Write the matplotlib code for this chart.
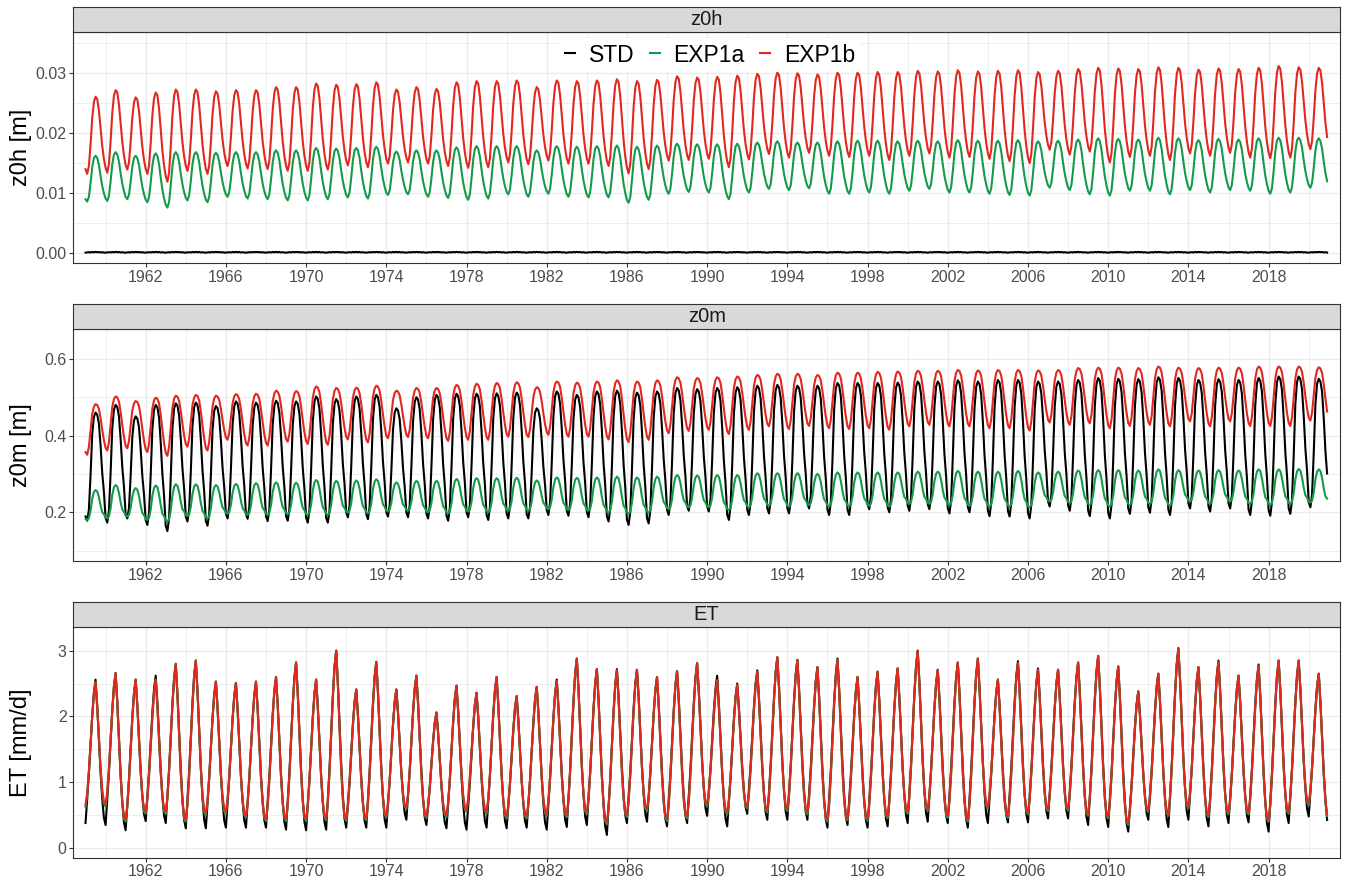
import numpy as np
import matplotlib
matplotlib.use("Agg")
import matplotlib.pyplot as plt
from matplotlib.lines import Line2D

plt.rcParams['font.family'] = ['Liberation Sans', 'DejaVu Sans']

# ---- data: annual summer peaks (1959-2020) and winter troughs (1959-2021) ----
years = list(range(1959, 2021))

z0h_exp1b_peak = [0.0260, 0.0271, 0.0259, 0.0267, 0.0272, 0.0272, 0.0269, 0.0271, 0.0271, 0.0276,
                  0.0276, 0.0282, 0.0280, 0.0281, 0.0284, 0.0272, 0.0276, 0.0273, 0.0284, 0.0286,
                  0.0286, 0.0287, 0.0276, 0.0287, 0.0286, 0.0287, 0.0289, 0.0286, 0.0288, 0.0294,
                  0.0292, 0.0293, 0.0295, 0.0298, 0.0300, 0.0299, 0.0297, 0.0300, 0.0300, 0.0301,
                  0.0301, 0.0303, 0.0302, 0.0304, 0.0302, 0.0303, 0.0304, 0.0301, 0.0303, 0.0306,
                  0.0308, 0.0307, 0.0306, 0.0309, 0.0308, 0.0305, 0.0307, 0.0306, 0.0308, 0.0311,
                  0.0309, 0.0308]
z0h_exp1b_trough = [0.0132, 0.0134, 0.0139, 0.0132, 0.0119, 0.0137, 0.0132, 0.0145, 0.0141, 0.0140,
                    0.0137, 0.0137, 0.0139, 0.0146, 0.0143, 0.0149, 0.0151, 0.0149, 0.0145, 0.0142,
                    0.0143, 0.0151, 0.0148, 0.0154, 0.0149, 0.0149, 0.0145, 0.0133, 0.0140, 0.0154,
                    0.0155, 0.0157, 0.0143, 0.0156, 0.0165, 0.0159, 0.0167, 0.0162, 0.0160, 0.0162,
                    0.0155, 0.0162, 0.0166, 0.0159, 0.0160, 0.0157, 0.0153, 0.0150, 0.0172, 0.0164,
                    0.0169, 0.0151, 0.0160, 0.0162, 0.0155, 0.0166, 0.0162, 0.0167, 0.0159, 0.0158,
                    0.0159, 0.0173, 0.0168]
z0h_exp1a_peak = [0.0162, 0.0168, 0.0162, 0.0166, 0.0168, 0.0168, 0.0167, 0.0168, 0.0168, 0.0171,
                  0.0171, 0.0175, 0.0174, 0.0175, 0.0177, 0.0169, 0.0171, 0.0171, 0.0176, 0.0178,
                  0.0178, 0.0178, 0.0171, 0.0178, 0.0177, 0.0178, 0.0179, 0.0177, 0.0179, 0.0182,
                  0.0181, 0.0181, 0.0182, 0.0184, 0.0186, 0.0184, 0.0184, 0.0186, 0.0187, 0.0187,
                  0.0186, 0.0187, 0.0186, 0.0188, 0.0187, 0.0187, 0.0188, 0.0186, 0.0187, 0.0189,
                  0.0191, 0.0190, 0.0189, 0.0192, 0.0191, 0.0188, 0.0190, 0.0189, 0.0191, 0.0192,
                  0.0192, 0.0191]
z0h_exp1a_trough = [0.0086, 0.0087, 0.0090, 0.0085, 0.0076, 0.0088, 0.0085, 0.0094, 0.0091, 0.0090,
                    0.0088, 0.0088, 0.0090, 0.0093, 0.0091, 0.0097, 0.0098, 0.0094, 0.0092, 0.0089,
                    0.0091, 0.0098, 0.0094, 0.0099, 0.0094, 0.0093, 0.0093, 0.0084, 0.0089, 0.0099,
                    0.0102, 0.0101, 0.0090, 0.0101, 0.0107, 0.0105, 0.0108, 0.0099, 0.0099, 0.0101,
                    0.0099, 0.0104, 0.0107, 0.0101, 0.0101, 0.0099, 0.0097, 0.0096, 0.0109, 0.0105,
                    0.0098, 0.0096, 0.0104, 0.0104, 0.0098, 0.0105, 0.0101, 0.0105, 0.0104, 0.0099,
                    0.0101, 0.0109, 0.0105]
z0h_std_peak = [0.00025] * 62
z0h_std_trough = [0.00012] * 63

z0m_exp1b_peak = [0.482, 0.502, 0.490, 0.499, 0.504, 0.506, 0.504, 0.508, 0.509, 0.517,
                  0.516, 0.528, 0.524, 0.525, 0.530, 0.517, 0.524, 0.524, 0.532, 0.535,
                  0.537, 0.539, 0.526, 0.541, 0.538, 0.541, 0.544, 0.541, 0.544, 0.552,
                  0.550, 0.552, 0.554, 0.558, 0.561, 0.561, 0.558, 0.564, 0.564, 0.566,
                  0.567, 0.569, 0.569, 0.571, 0.570, 0.571, 0.571, 0.570, 0.571, 0.576,
                  0.577, 0.577, 0.576, 0.580, 0.577, 0.576, 0.577, 0.577, 0.580, 0.580,
                  0.580, 0.578]
z0m_exp1b_trough = [0.350, 0.361, 0.367, 0.357, 0.347, 0.371, 0.361, 0.389, 0.374, 0.374,
                    0.384, 0.378, 0.376, 0.390, 0.382, 0.393, 0.396, 0.393, 0.386, 0.389,
                    0.389, 0.397, 0.396, 0.402, 0.397, 0.397, 0.390, 0.383, 0.389, 0.406,
                    0.412, 0.415, 0.404, 0.415, 0.424, 0.417, 0.425, 0.419, 0.417, 0.419,
                    0.415, 0.424, 0.428, 0.424, 0.424, 0.419, 0.419, 0.413, 0.434, 0.428,
                    0.432, 0.419, 0.425, 0.428, 0.424, 0.437, 0.424, 0.437, 0.425, 0.425,
                    0.425, 0.439, 0.430]
z0m_std_peak = [0.460, 0.480, 0.450, 0.480, 0.484, 0.486, 0.477, 0.489, 0.486, 0.491,
                0.489, 0.502, 0.495, 0.502, 0.506, 0.471, 0.500, 0.506, 0.509, 0.509,
                0.510, 0.512, 0.471, 0.515, 0.506, 0.515, 0.517, 0.512, 0.515, 0.524,
                0.521, 0.524, 0.526, 0.530, 0.532, 0.530, 0.530, 0.537, 0.537, 0.537,
                0.538, 0.541, 0.541, 0.544, 0.541, 0.545, 0.545, 0.541, 0.541, 0.545,
                0.550, 0.548, 0.547, 0.552, 0.550, 0.545, 0.547, 0.545, 0.550, 0.554,
                0.554, 0.548]
z0m_std_trough = [0.178, 0.173, 0.184, 0.167, 0.151, 0.176, 0.165, 0.184, 0.183, 0.177,
                  0.178, 0.173, 0.173, 0.187, 0.182, 0.189, 0.187, 0.184, 0.178, 0.187,
                  0.180, 0.184, 0.184, 0.193, 0.191, 0.187, 0.176, 0.167, 0.171, 0.193,
                  0.204, 0.202, 0.180, 0.193, 0.197, 0.197, 0.210, 0.193, 0.193, 0.208,
                  0.200, 0.204, 0.208, 0.197, 0.200, 0.190, 0.189, 0.184, 0.215, 0.204,
                  0.190, 0.184, 0.196, 0.199, 0.193, 0.210, 0.202, 0.210, 0.193, 0.191,
                  0.196, 0.213, 0.205]
z0m_exp1a_peak = [0.258, 0.271, 0.263, 0.270, 0.273, 0.273, 0.271, 0.274, 0.276, 0.278,
                  0.277, 0.284, 0.282, 0.283, 0.286, 0.278, 0.282, 0.282, 0.287, 0.289,
                  0.289, 0.290, 0.283, 0.291, 0.290, 0.291, 0.293, 0.291, 0.293, 0.297,
                  0.296, 0.297, 0.297, 0.302, 0.302, 0.302, 0.300, 0.304, 0.304, 0.304,
                  0.304, 0.306, 0.306, 0.308, 0.306, 0.306, 0.308, 0.304, 0.306, 0.309,
                  0.310, 0.310, 0.309, 0.312, 0.310, 0.309, 0.310, 0.309, 0.312, 0.312,
                  0.313, 0.312]
z0m_exp1a_trough = [0.180, 0.184, 0.189, 0.180, 0.176, 0.190, 0.184, 0.196, 0.193, 0.193,
                    0.195, 0.193, 0.193, 0.199, 0.197, 0.202, 0.204, 0.200, 0.197, 0.202,
                    0.200, 0.204, 0.204, 0.208, 0.206, 0.204, 0.199, 0.196, 0.199, 0.208,
                    0.213, 0.213, 0.206, 0.213, 0.217, 0.215, 0.219, 0.215, 0.215, 0.217,
                    0.215, 0.222, 0.222, 0.219, 0.217, 0.215, 0.215, 0.213, 0.228, 0.224,
                    0.219, 0.215, 0.219, 0.222, 0.217, 0.228, 0.222, 0.228, 0.222, 0.219,
                    0.222, 0.225, 0.222]

et_exp1b_peak = [2.52, 2.66, 2.56, 2.56, 2.80, 2.85, 2.53, 2.51, 2.53, 2.60,
                 2.82, 2.56, 3.00, 2.41, 2.83, 2.41, 2.62, 2.06, 2.46, 2.36,
                 2.60, 2.31, 2.45, 2.54, 2.88, 2.72, 2.70, 2.71, 2.60, 2.69,
                 2.81, 2.55, 2.48, 2.68, 2.90, 2.86, 2.75, 2.86, 2.60, 2.68,
                 2.73, 3.00, 2.71, 2.82, 2.88, 2.56, 2.81, 2.71, 2.71, 2.82,
                 2.92, 2.76, 2.38, 2.65, 3.03, 2.75, 2.83, 2.62, 2.77, 2.85,
                 2.85, 2.65]
et_exp1b_trough = [0.65, 0.66, 0.43, 0.55, 0.55, 0.43, 0.53, 0.55, 0.49, 0.44,
                   0.44, 0.44, 0.45, 0.44, 0.45, 0.49, 0.62, 0.48, 0.50, 0.58,
                   0.55, 0.48, 0.48, 0.52, 0.50, 0.54, 0.39, 0.50, 0.59, 0.44,
                   0.48, 0.66, 0.54, 0.63, 0.57, 0.59, 0.54, 0.43, 0.45, 0.44,
                   0.48, 0.55, 0.59, 0.49, 0.43, 0.63, 0.49, 0.54, 0.59, 0.60,
                   0.52, 0.48, 0.38, 0.58, 0.52, 0.63, 0.50, 0.54, 0.54, 0.43,
                   0.55, 0.68, 0.47]
et_exp1a_peak = et_exp1b_peak
et_exp1a_trough = [0.62, 0.63, 0.40, 0.52, 0.52, 0.40, 0.50, 0.52, 0.46, 0.41,
                   0.41, 0.41, 0.42, 0.41, 0.42, 0.46, 0.59, 0.45, 0.47, 0.55,
                   0.52, 0.45, 0.45, 0.49, 0.47, 0.51, 0.36, 0.47, 0.56, 0.41,
                   0.45, 0.63, 0.51, 0.60, 0.54, 0.56, 0.51, 0.40, 0.42, 0.41,
                   0.45, 0.52, 0.56, 0.46, 0.40, 0.60, 0.46, 0.51, 0.56, 0.57,
                   0.49, 0.45, 0.35, 0.55, 0.49, 0.60, 0.47, 0.51, 0.51, 0.40,
                   0.52, 0.65, 0.44]
et_std_peak = [2.56, 2.66, 2.56, 2.62, 2.80, 2.85, 2.53, 2.51, 2.53, 2.60,
               2.82, 2.56, 3.00, 2.41, 2.83, 2.41, 2.62, 2.06, 2.47, 2.36,
               2.60, 2.31, 2.45, 2.56, 2.88, 2.72, 2.72, 2.71, 2.60, 2.69,
               2.81, 2.62, 2.50, 2.70, 2.90, 2.86, 2.75, 2.88, 2.60, 2.68,
               2.73, 3.00, 2.71, 2.82, 2.88, 2.56, 2.84, 2.73, 2.71, 2.82,
               2.92, 2.76, 2.38, 2.65, 3.04, 2.75, 2.85, 2.62, 2.79, 2.85,
               2.85, 2.65]
et_std_trough = [0.38, 0.35, 0.27, 0.41, 0.38, 0.30, 0.30, 0.31, 0.31, 0.31,
                 0.28, 0.27, 0.28, 0.31, 0.31, 0.31, 0.43, 0.35, 0.30, 0.28,
                 0.31, 0.30, 0.31, 0.28, 0.32, 0.35, 0.20, 0.38, 0.40, 0.33,
                 0.38, 0.49, 0.33, 0.52, 0.43, 0.43, 0.43, 0.31, 0.35, 0.31,
                 0.33, 0.38, 0.40, 0.38, 0.31, 0.38, 0.39, 0.39, 0.45, 0.45,
                 0.35, 0.32, 0.25, 0.43, 0.32, 0.43, 0.33, 0.38, 0.39, 0.25,
                 0.38, 0.48, 0.31]

# seasonal course Jan..Dec, 0 = winter trough, 1 = summer peak
shape_z0h_exp1b = [0.06, 0.0, 0.10, 0.38, 0.72, 0.93, 1.0, 0.97, 0.82, 0.58, 0.35, 0.18]
shape_z0h_exp1a = [0.05, 0.0, 0.10, 0.40, 0.75, 0.95, 1.0, 0.95, 0.80, 0.55, 0.33, 0.17]
shape_z0h_std = [0.0, 0.3, 0.6, 0.2, 0.9, 0.4, 1.0, 0.5, 0.8, 0.2, 0.6, 0.1]
shape_z0m_std = [0.04, 0.0, 0.10, 0.42, 0.80, 0.96, 1.0, 0.98, 0.90, 0.70, 0.45, 0.28]
shape_z0m_exp1b = [0.05, 0.0, 0.15, 0.48, 0.80, 0.95, 1.0, 0.98, 0.90, 0.70, 0.45, 0.22]
shape_z0m_exp1a = [0.03, 0.0, 0.06, 0.30, 0.70, 0.93, 1.0, 0.95, 0.75, 0.45, 0.22, 0.15]
shape_et = [0.0, 0.10, 0.28, 0.50, 0.72, 0.90, 1.0, 0.80, 0.55, 0.30, 0.12, 0.02]
shape_et_std = [0.0, 0.17, 0.34, 0.55, 0.75, 0.91, 1.0, 0.82, 0.59, 0.36, 0.18, 0.05]

series_names = ["STD", "EXP1a", "EXP1b"]
colors = {"STD": "black", "EXP1a": "#149b4a", "EXP1b": "#e2271e"}


def monthly(peak, trough, shape, peak_month=7):
    vals = []
    for i, p in enumerate(peak):
        for m in range(12):
            low = trough[i] if m + 1 <= peak_month else trough[i + 1]
            vals.append(low + shape[m] * (p - low))
    return np.array(vals)


t = years[0] + np.arange(len(years) * 12) / 12.0

panels = [
    dict(title="z0h", ylabel="z0h [m]",
         data={"STD": monthly(z0h_std_peak, z0h_std_trough, shape_z0h_std),
               "EXP1a": monthly(z0h_exp1a_peak, z0h_exp1a_trough, shape_z0h_exp1a),
               "EXP1b": monthly(z0h_exp1b_peak, z0h_exp1b_trough, shape_z0h_exp1b)},
         ylim=(-0.0016, 0.0367), yticks=[0, 0.01, 0.02, 0.03],
         ylabels=["0.00", "0.01", "0.02", "0.03"], yminor=[0.005, 0.015, 0.025, 0.035],
         box=(7.3, 32.3, 263)),
    dict(title="z0m", ylabel="z0m [m]",
         data={"STD": monthly(z0m_std_peak, z0m_std_trough, shape_z0m_std),
               "EXP1a": monthly(z0m_exp1a_peak, z0m_exp1a_trough, shape_z0m_exp1a),
               "EXP1b": monthly(z0m_exp1b_peak, z0m_exp1b_trough, shape_z0m_exp1b)},
         ylim=(0.073, 0.677), yticks=[0.2, 0.4, 0.6],
         ylabels=["0.2", "0.4", "0.6"], yminor=[0.1, 0.3, 0.5],
         box=(304.3, 329.3, 561)),
    dict(title="ET", ylabel="ET [mm/d]",
         data={"STD": monthly(et_std_peak, et_std_trough, shape_et_std),
               "EXP1a": monthly(et_exp1a_peak, et_exp1a_trough, shape_et),
               "EXP1b": monthly(et_exp1b_peak, et_exp1b_trough, shape_et)},
         ylim=(-0.147, 3.36), yticks=[0, 1, 2, 3],
         ylabels=["0", "1", "2", "3"], yminor=[0.5, 1.5, 2.5],
         box=(601.7, 627, 857.7)),
]

W, H = 1346, 880
fig = plt.figure(figsize=(W / 100, H / 100), dpi=100)
left, right = 73.3, 1340

xmajor = list(range(1962, 2019, 4))
xminor = list(range(1960, 2021, 4))

for p in panels:
    s_top, p_top, p_bot = p["box"]
    ax = fig.add_axes([left / W, 1 - p_bot / H, (right - left) / W, (p_bot - p_top) / H])
    st = fig.add_axes([left / W, 1 - p_top / H, (right - left) / W, (p_top - s_top) / H])

    # grid
    for v in p["yminor"]:
        ax.axhline(v, color="#ebebeb", lw=0.6, zorder=0)
    for v in p["yticks"]:
        ax.axhline(v, color="#ebebeb", lw=0.9, zorder=0)
    for v in xminor:
        ax.axvline(v, color="#ebebeb", lw=0.6, zorder=0)
    for v in xmajor:
        ax.axvline(v, color="#ebebeb", lw=0.9, zorder=0)

    for name in series_names:
        ax.plot(t, p["data"][name], color=colors[name], lw=1.5, zorder=2)

    ax.set_xlim(1958.39, 2021.56)
    ax.set_ylim(*p["ylim"])
    ax.set_xticks(xmajor)
    ax.set_xticklabels([str(y) for y in xmajor])
    ax.set_yticks(p["yticks"])
    ax.set_yticklabels(p["ylabels"])
    ax.tick_params(axis="both", length=2.75, width=0.8, color="#333333",
                   labelcolor="#4d4d4d", labelsize=11.5, pad=2)
    for sp in ax.spines.values():
        sp.set_color("#333333")
        sp.set_linewidth(0.8)

    fig.text(21 / W, 1 - (p_top + p_bot) / 2 / H, p["ylabel"], rotation=90,
             ha="center", va="center", fontsize=17, color="black")

    st.set_facecolor("#d9d9d9")
    st.set_xticks([])
    st.set_yticks([])
    for sp in st.spines.values():
        sp.set_color("#333333")
        sp.set_linewidth(0.8)
    st.text(0.5, 0.5, p["title"], transform=st.transAxes, ha="center", va="center",
            fontsize=14.5, color="#1a1a1a")

    if p["title"] == "z0h":
        handles = [Line2D([], [], color=colors[n], lw=1.5) for n in series_names]
        leg = ax.legend(handles, series_names, ncol=3, loc="center",
                        bbox_to_anchor=((710 - left) / (right - left), 1 - (55 - p_top) / (p_bot - p_top)),
                        fontsize=16.5, frameon=True, handlelength=0.45, handletextpad=0.6,
                        columnspacing=0.65, borderpad=0.25, fancybox=False)
        leg.get_frame().set_facecolor("white")
        leg.get_frame().set_edgecolor("none")
        leg.get_frame().set_alpha(1.0)

fig.savefig("out.png", dpi=100)
